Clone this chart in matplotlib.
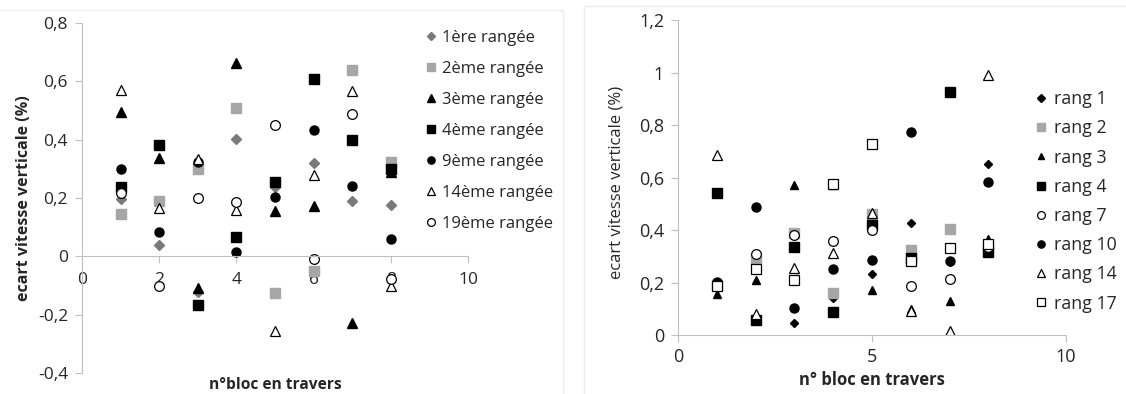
import matplotlib
matplotlib.use("Agg")
import matplotlib.pyplot as plt
from matplotlib.patches import Rectangle

plt.rcParams['font.family'] = ['Open Sans', 'DejaVu Sans']

# --- graphique de gauche ---
blocs = [1, 2, 3, 4, 5, 6, 7, 8]
g_noms = ['1ère rangée', '2ème rangée', '3ème rangée', '4ème rangée',
          '9ème rangée', '14ème rangée', '19ème rangée']
g_r1 = [0.198, 0.038, -0.122, 0.404, 0.238, 0.319, 0.19, 0.175]
g_r2 = [0.144, 0.19, 0.30, 0.51, -0.125, -0.05, 0.638, 0.325]
g_r3 = [0.495, 0.339, -0.11, 0.662, 0.155, 0.173, -0.227, 0.29]
g_r4 = [0.239, 0.381, -0.168, 0.066, 0.255, 0.61, 0.399, 0.30]
g_r9 = [0.298, 0.085, 0.325, 0.016, 0.203, 0.432, 0.241, 0.058]
g_r14 = [0.57, 0.167, 0.335, 0.159, -0.256, 0.278, 0.567, -0.10]
g_r19 = [0.216, -0.102, 0.20, 0.186, 0.449, -0.008, 0.487, -0.078]
g_xticks = [0, 2, 4, 6, 8, 10]
g_yticks = [-0.4, -0.2, 0, 0.2, 0.4, 0.6, 0.8]
g_ylabels = ['-0,4', '-0,2', '0', '0,2', '0,4', '0,6', '0,8']

# --- graphique de droite ---
d_noms = ['rang 1', 'rang 2', 'rang 3', 'rang 4', 'rang 7', 'rang 10',
          'rang 14', 'rang 17']
d_r1 = [0.19, 0.06, 0.045, 0.14, 0.231, 0.428, 0.28, 0.65]
d_r2 = [0.19, 0.288, 0.39, 0.159, 0.46, 0.324, 0.405, 0.34]
d_r3 = [0.156, 0.21, 0.571, 0.57, 0.171, 0.098, 0.13, 0.365]
d_r4 = [0.542, 0.057, 0.334, 0.089, 0.418, 0.295, 0.925, 0.317]
d_r7 = [0.20, 0.309, 0.38, 0.359, 0.40, 0.188, 0.215, 0.335]
d_r10 = [0.203, 0.489, 0.102, 0.25, 0.286, 0.775, 0.283, 0.582]
d_r14 = [0.686, 0.08, 0.254, 0.311, 0.465, 0.09, 0.015, 0.99]
d_r17 = [0.185, 0.25, 0.21, 0.575, 0.728, 0.282, 0.33, 0.345]
d_xticks = [0, 5, 10]
d_yticks = [0, 0.2, 0.4, 0.6, 0.8, 1.0, 1.2]
d_ylabels = ['0', '0,2', '0,4', '0,6', '0,8', '1', '1,2']

axe_gris = '#bfbfbf'
texte = '#262626'

fig = plt.figure(figsize=(11.26, 3.94), dpi=100)

# cadres tres pales des deux graphiques (style Excel)
fig.patches.append(Rectangle((-0.01, -0.05), 0.51, 1.025, transform=fig.transFigure,
                             fill=False, edgecolor='#ececec', linewidth=1))
fig.patches.append(Rectangle((0.519, -0.05), 0.5, 1.035, transform=fig.transFigure,
                             fill=False, edgecolor='#ececec', linewidth=1))

# ---------------- gauche ----------------
ax1 = fig.add_axes([0.0728, 0.0533, 0.3428, 0.888])
styles_g = [
    dict(marker='D', color='#7a7a7a', mec='#7a7a7a', ms=5),
    dict(marker='s', color='#a6a6a6', mec='#a6a6a6', ms=6.5),
    dict(marker='^', color='black', mec='black', ms=6.5),
    dict(marker='s', color='black', mec='black', ms=6.5),
    dict(marker='o', color='black', mec='black', ms=6.5),
    dict(marker='^', color='white', mec='black', ms=7, mew=0.9),
    dict(marker='o', color='white', mec='black', ms=7, mew=0.9),
]
for serie, nom, st in zip([g_r1, g_r2, g_r3, g_r4, g_r9, g_r14, g_r19], g_noms, styles_g):
    ax1.plot(blocs, serie, linestyle='none', label=nom, **st)

ax1.set_xlim(0, 10)
ax1.set_ylim(-0.4, 0.8)
ax1.spines['left'].set_position(('data', 0))
ax1.spines['bottom'].set_position(('data', 0))
ax1.spines['top'].set_visible(False)
ax1.spines['right'].set_visible(False)
ax1.spines['left'].set_color(axe_gris)
ax1.spines['bottom'].set_color(axe_gris)
ax1.set_xticks(g_xticks)
ax1.set_xticklabels([str(v) for v in g_xticks])
ax1.set_yticks(g_yticks)
ax1.set_yticklabels(g_ylabels)
ax1.tick_params(axis='both', colors=axe_gris, labelcolor=texte, labelsize=12.5,
                length=5, direction='out')
ax1.tick_params(axis='x', pad=6)
ax1.tick_params(axis='y', pad=5)
ax1.set_xlabel('n°bloc en travers', fontsize=11.2, fontweight='bold', color=texte)
ax1.xaxis.set_label_coords(0.5, -0.012)
ax1.set_ylabel('ecart vitesse verticale (%)', fontsize=11.5, fontweight='bold', color=texte)
ax1.yaxis.set_label_coords(-0.13, 0.50)
ax1.patch.set_alpha(0)
leg1 = ax1.legend(loc='upper left', bbox_to_anchor=(0.86, 1.0), frameon=False,
                  fontsize=12, handletextpad=0.1, labelspacing=0.9,
                  markerscale=0.8, handlelength=1.2, borderaxespad=0)
for t in leg1.get_texts():
    t.set_color(texte)

# ---------------- droite ----------------
ax2 = fig.add_axes([0.6021, 0.1497, 0.3446, 0.7995])
styles_d = [
    dict(marker='D', color='black', mec='black', ms=4.5),
    dict(marker='s', color='#a6a6a6', mec='#a6a6a6', ms=6.5),
    dict(marker='^', color='black', mec='black', ms=6),
    dict(marker='s', color='black', mec='black', ms=6.5),
    dict(marker='o', color='white', mec='black', ms=7, mew=0.9),
    dict(marker='o', color='black', mec='black', ms=6.5),
    dict(marker='^', color='white', mec='black', ms=7, mew=0.9),
    dict(marker='s', color='white', mec='black', ms=7, mew=0.9),
]
for serie, nom, st in zip([d_r1, d_r2, d_r3, d_r4, d_r7, d_r10, d_r14, d_r17],
                          d_noms, styles_d):
    ax2.plot(blocs, serie, linestyle='none', label=nom, **st)

ax2.set_xlim(0, 10)
ax2.set_ylim(0, 1.2)
ax2.spines['top'].set_visible(False)
ax2.spines['right'].set_visible(False)
ax2.spines['left'].set_color(axe_gris)
ax2.spines['bottom'].set_color(axe_gris)
ax2.set_xticks(d_xticks)
ax2.set_xticklabels([str(v) for v in d_xticks])
ax2.set_yticks(d_yticks)
ax2.set_yticklabels(d_ylabels)
ax2.tick_params(axis='both', colors=axe_gris, labelcolor=texte, labelsize=13,
                length=5, direction='out')
ax2.tick_params(axis='x', pad=4)
ax2.tick_params(axis='y', pad=5)
ax2.set_xlabel('n° bloc en travers', fontsize=12, fontweight='bold', color=texte)
ax2.xaxis.set_label_coords(0.5, -0.115)
ax2.set_ylabel('ecart vitesse verticale (%)', fontsize=12, color=texte)
ax2.yaxis.set_label_coords(-0.137, 0.483)
ax2.patch.set_alpha(0)
leg2 = ax2.legend(loc='upper left', bbox_to_anchor=(0.89, 0.8), frameon=False,
                  fontsize=12.8, handletextpad=0.1, labelspacing=0.63,
                  markerscale=0.8, handlelength=1.2, borderaxespad=0)
for t in leg2.get_texts():
    t.set_color(texte)

fig.savefig('out.png', dpi=100)
